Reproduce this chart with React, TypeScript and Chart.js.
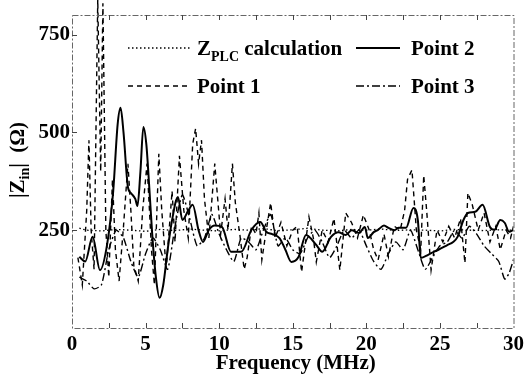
import { useEffect, useRef } from 'react';
import { Chart, registerables } from 'chart.js';

Chart.register(...registerables);

const FONT = "'Liberation Serif', 'Times New Roman', serif";

const xTickValues = [0, 5, 10, 15, 20, 25, 30];
const yTickValues = [250, 500, 750];

const zplcFreq = [0.5, 1, 2, 3, 4, 5, 6, 7, 8, 9, 10, 11, 12, 13, 14, 15, 16, 17, 18, 19, 20, 21, 22, 23, 24, 25, 26, 27, 28, 29, 30];
const zplcVals = [255, 250, 248, 252, 250, 247, 252, 249, 253, 250, 248, 252, 250, 254, 249, 251, 255, 250, 248, 252, 250, 253, 249, 251, 250, 248, 252, 250, 249, 251, 250];

const p1Freq = [0.4, 0.7, 1.0, 1.15, 1.3, 1.5, 1.75, 1.95, 2.1, 2.3, 2.5, 2.75, 2.95, 3.2, 3.5, 3.8, 4.0, 4.2, 4.5, 4.8, 5.1, 5.4, 5.6, 5.9, 6.1, 6.4, 6.8, 7.0, 7.3, 7.6, 7.9, 8.2, 8.4, 8.6, 8.8, 9.0, 9.3, 9.7, 9.9, 10.1, 10.4, 10.6, 10.9, 11.1, 11.4, 11.7, 11.9, 12.2, 12.5, 12.7, 12.9, 13.2, 13.5, 13.8, 14.2, 14.6, 15.0, 15.3, 15.6, 16.1, 16.4, 16.6, 17.0, 17.4, 17.8, 18.2, 18.6, 19.0, 19.4, 19.8, 20.2, 20.5, 20.8, 21.2, 21.5, 21.9, 22.3, 22.6, 22.8, 23.1, 23.4, 23.7, 23.9, 24.1, 24.4, 24.8, 25.2, 25.6, 26.0, 26.4, 26.7, 26.9, 27.2, 27.6, 28.0, 28.4, 28.8, 29.1, 29.5, 29.8, 30.0];
const p1Vals = [180, 110, 300, 480, 250, 150, 840, 400, 830, 250, 130, 380, 200, 120, 260, 420, 300, 160, 120, 300, 420, 200, 110, 445, 300, 150, 350, 220, 440, 300, 230, 470, 510, 420, 480, 330, 230, 420, 330, 240, 330, 250, 420, 320, 240, 150, 180, 260, 240, 294, 174, 250, 320, 230, 270, 210, 250, 260, 143, 284, 230, 169, 250, 220, 280, 148, 294, 269, 230, 289, 250, 200, 174, 240, 182, 260, 250, 300, 380, 404, 250, 200, 390, 300, 148, 250, 220, 260, 230, 280, 166, 345, 315, 250, 294, 220, 260, 200, 250, 230, 260];

const p2Freq = [0.5, 0.9, 1.4, 1.9, 2.4, 2.8, 3.1, 3.3, 3.5, 3.8, 4.0, 4.3, 4.45, 4.65, 4.85, 5.05, 5.25, 5.45, 5.7, 5.95, 6.2, 6.5, 6.8, 7.2, 7.5, 7.9, 8.2, 8.6, 8.9, 9.3, 9.7, 10.2, 10.8, 11.5, 12.2, 12.8, 13.2, 13.6, 14.1, 14.5, 14.9, 15.4, 15.9, 16.6, 17.0, 17.6, 18.1, 18.6, 19.0, 19.5, 19.9, 20.1, 20.5, 20.8, 21.2, 21.5, 21.9, 22.2, 22.7, 23.2, 23.5, 23.7, 24.2, 24.6, 24.9, 25.5, 25.9, 26.2, 26.6, 26.9, 27.4, 27.9, 28.4, 28.7, 29.1, 29.4, 29.7, 30];
const p2Vals = [182, 170, 233, 148, 217, 350, 520, 563, 500, 360, 345, 330, 312, 400, 514, 470, 360, 240, 130, 77, 110, 200, 276, 335, 276, 300, 315, 250, 220, 251, 262, 258, 195, 195, 251, 271, 246, 240, 230, 200, 169, 182, 238, 212, 195, 233, 245, 238, 250, 243, 258, 230, 245, 251, 262, 256, 250, 256, 256, 307, 276, 179, 187, 195, 200, 212, 220, 233, 276, 294, 297, 315, 258, 251, 276, 269, 246, 251];

const p3Freq = [0.5, 1, 1.5, 2, 2.5, 3, 3.5, 4, 4.5, 5, 5.5, 6, 6.5, 7, 7.5, 8, 8.5, 9, 9.5, 10, 10.5, 11, 11.5, 12, 12.5, 13, 13.5, 14, 14.5, 15, 15.5, 16, 16.5, 17, 17.5, 18, 18.5, 19, 19.5, 20, 20.5, 21, 21.5, 22, 22.5, 23, 23.5, 24, 24.5, 25, 25.5, 26, 26.5, 27, 27.5, 28, 28.5, 29, 29.4, 29.7, 30];
const p3Vals = [130, 120, 100, 110, 200, 250, 230, 170, 130, 190, 230, 200, 150, 260, 340, 280, 210, 230, 290, 240, 200, 170, 230, 220, 200, 250, 290, 210, 230, 200, 190, 230, 250, 220, 180, 210, 250, 230, 250, 210, 170, 150, 190, 220, 200, 250, 200, 150, 180, 210, 220, 250, 230, 260, 240, 210, 190, 170, 125, 140, 175];

const pts = (xs: number[], ys: number[]) => xs.map((x, i) => ({ x, y: ys[i] }));

const DOTTED = [1.5, 2.5];
const DASHED = [5, 4];
const DASHDOT = [8, 3, 2, 3];

const overlayPlugin = {
  id: 'overlay',
  afterDraw(chart: any) {
    const ctx = chart.ctx;
    const { left, right, top, bottom } = chart.chartArea;
    const xs = chart.scales.x;
    const ys = chart.scales.y;
    ctx.save();
    // frame
    ctx.strokeStyle = '#666';
    ctx.lineWidth = 1;
    ctx.setLineDash([6, 2, 2, 2]);
    ctx.strokeRect(left + 0.5, top + 0.5, right - left, bottom - top);
    ctx.setLineDash([]);
    // inner tick marks
    ctx.strokeStyle = '#444';
    ctx.beginPath();
    for (let v = 2.5; v < 30; v += 2.5) {
      const px = Math.round(xs.getPixelForValue(v)) + 0.5;
      ctx.moveTo(px, bottom);
      ctx.lineTo(px, bottom - 5);
      ctx.moveTo(px, top);
      ctx.lineTo(px, top + 5);
    }
    for (const v of yTickValues) {
      const py = Math.round(ys.getPixelForValue(v)) + 0.5;
      ctx.moveTo(left, py);
      ctx.lineTo(left + 5, py);
    }
    ctx.stroke();

    ctx.fillStyle = '#000';
    ctx.textBaseline = 'alphabetic';
    ctx.textAlign = 'left';
    // legend samples
    const sample = (x1: number, x2: number, y: number, dash: number[], w: number) => {
      ctx.beginPath();
      ctx.setLineDash(dash);
      ctx.lineWidth = w;
      ctx.strokeStyle = '#000';
      ctx.moveTo(x1, y);
      ctx.lineTo(x2, y);
      ctx.stroke();
      ctx.setLineDash([]);
    };
    sample(128, 190, 48, DOTTED, 1.3);
    sample(128, 190, 86, DASHED, 1.5);
    sample(356, 400, 48, [], 2);
    sample(356, 400, 86, DASHDOT, 1.5);

    // legend labels
    let x = 197;
    ctx.font = `bold 21px ${FONT}`;
    ctx.fillText('Z', x, 55);
    x += ctx.measureText('Z').width;
    ctx.font = `bold 14px ${FONT}`;
    ctx.fillText('PLC', x, 61);
    x += ctx.measureText('PLC').width;
    ctx.font = `bold 21px ${FONT}`;
    ctx.fillText(' calculation', x, 55);
    ctx.fillText('Point 1', 197, 93);
    ctx.fillText('Point 2', 411, 55);
    ctx.fillText('Point 3', 411, 93);

    // x title
    ctx.textAlign = 'center';
    ctx.fillText('Frequency (MHz)', (left + right) / 2 + 3, 369);

    // y title (rotated)
    ctx.translate(24, 160);
    ctx.rotate(-Math.PI / 2);
    const parts: [string, number, number][] = [
      ['|Z', 21, 0],
      ['in', 14, 5],
      ['|  (\u03A9)', 21, 0],
    ];
    let total = 0;
    for (const [t, s] of parts) {
      ctx.font = `bold ${s}px ${FONT}`;
      total += ctx.measureText(t).width;
    }
    let cx = -total / 2;
    ctx.textAlign = 'left';
    for (const [t, s, dy] of parts) {
      ctx.font = `bold ${s}px ${FONT}`;
      ctx.fillText(t, cx, dy);
      cx += ctx.measureText(t).width;
    }
    ctx.restore();
  },
};

export default function App() {
  const ref = useRef<HTMLCanvasElement | null>(null);
  useEffect(() => {
    if (!ref.current) return;
    const common = { fill: false, pointRadius: 0, borderColor: '#000', backgroundColor: '#000' };
    const chart = new Chart(ref.current, {
      type: 'line',
      data: {
        datasets: [
          { ...common, label: 'Point 2', data: pts(p2Freq, p2Vals), borderWidth: 2, cubicInterpolationMode: 'monotone' },
          { ...common, label: 'Point 1', data: pts(p1Freq, p1Vals), borderWidth: 1.4, borderDash: DASHED, clip: { left: 0, top: 15, right: 0, bottom: 0 } },
          { ...common, label: 'Point 3', data: pts(p3Freq, p3Vals), borderWidth: 1.4, borderDash: DASHDOT, tension: 0.2 },
          { ...common, label: 'ZPLC calculation', data: pts(zplcFreq, zplcVals), borderWidth: 1.3, borderDash: DOTTED },
        ] as any,
      },
      options: {
        animation: false,
        responsive: false,
        events: [],
        layout: { padding: { left: 0, right: 12, top: 15, bottom: 0 } },
        plugins: { legend: { display: false }, tooltip: { enabled: false } },
        scales: {
          x: {
            type: 'linear',
            min: 0,
            max: 30,
            grid: { display: false, drawTicks: false },
            border: { display: false },
            afterBuildTicks: (s: any) => { s.ticks = xTickValues.map((v) => ({ value: v })); },
            afterFit: (s: any) => { s.height = 52; },
            ticks: { color: '#000', padding: 4, maxRotation: 0, font: { family: FONT, size: 21, weight: 'bold' } },
          },
          y: {
            type: 'linear',
            min: 0,
            max: 800,
            grid: { display: false, drawTicks: false },
            border: { display: false },
            afterBuildTicks: (s: any) => { s.ticks = yTickValues.map((v) => ({ value: v })); },
            afterFit: (s: any) => { s.width = 72; },
            ticks: { color: '#000', padding: 2, font: { family: FONT, size: 21, weight: 'bold' } },
          },
        },
      } as any,
      plugins: [overlayPlugin],
    });
    return () => chart.destroy();
  }, []);
  return (
    <div style={{ position: 'absolute', left: 0, top: 0, width: 528, height: 380, background: '#fff' }}>
      <canvas ref={ref} width={528} height={380} style={{ display: 'block' }} />
    </div>
  );
}
